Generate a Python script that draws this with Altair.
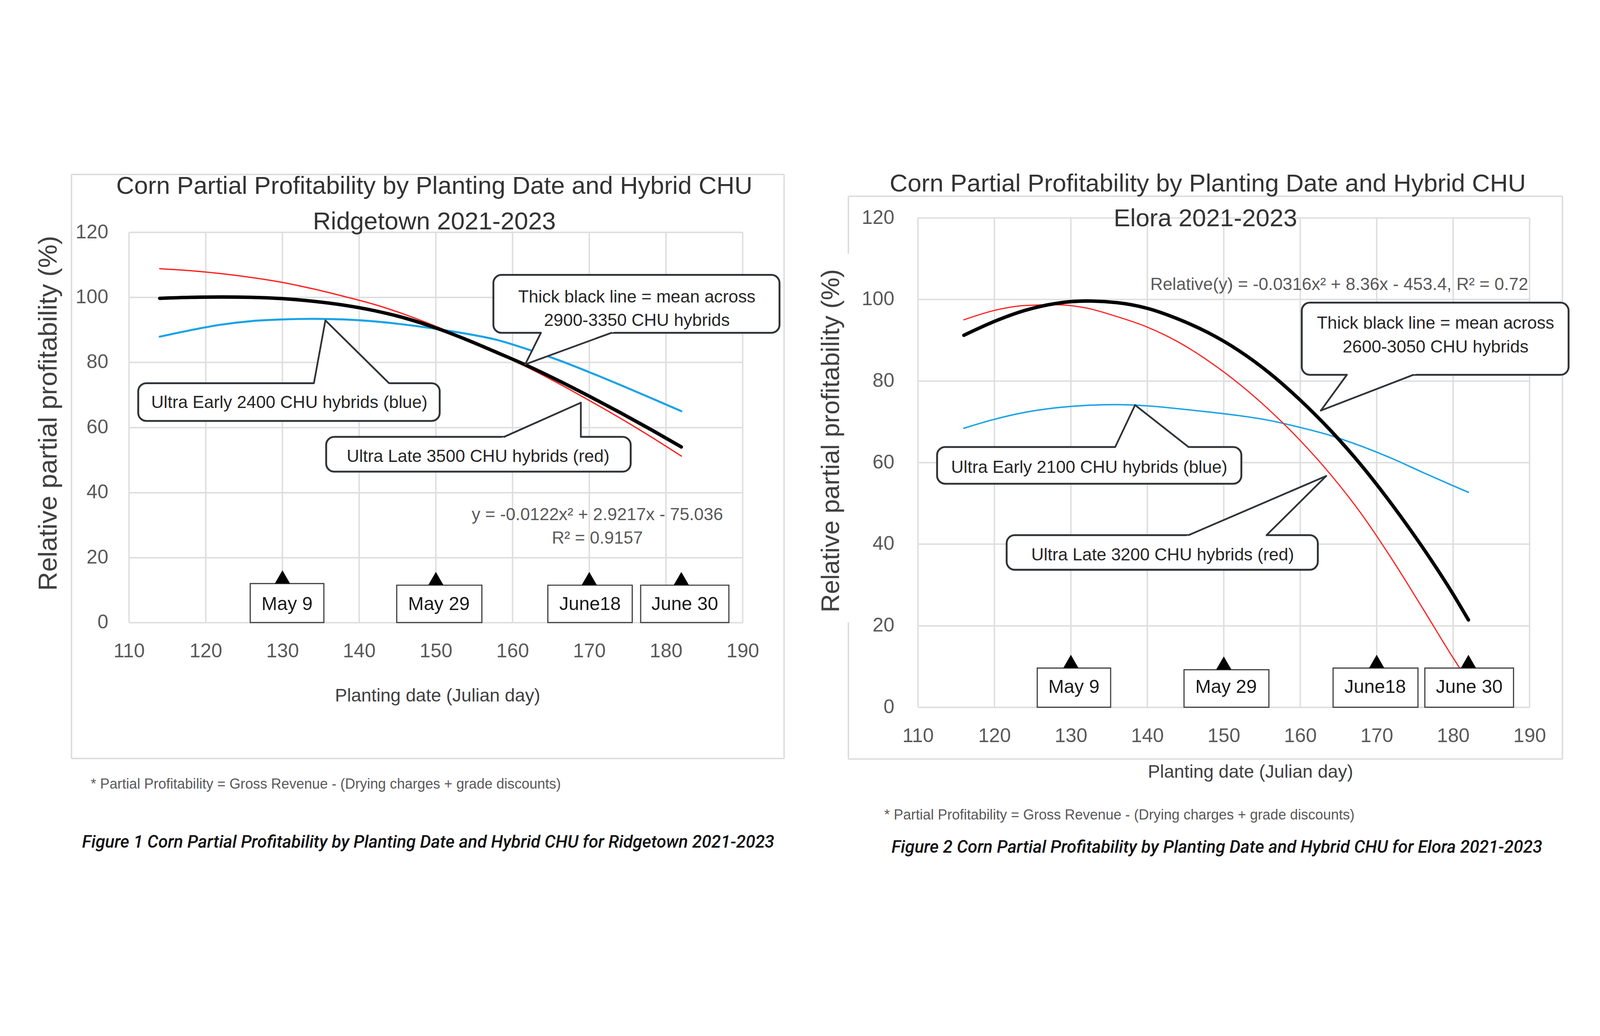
import altair as alt
import pandas as pd

FONT = "Liberation Sans, Arial, Helvetica, sans-serif"
CAPFONT = "Roboto, Liberation Sans, sans-serif"

# ---------------- series ----------------
ridge_day = [114, 118, 122, 126, 130, 134, 138, 142, 146, 150, 154, 158, 162, 166, 170, 174, 178, 182]
ridge_mean = [99.7, 100.0, 100.1, 100.0, 99.6, 98.8, 97.6, 95.9, 93.6, 90.6, 87.0, 83.0, 78.9, 74.4, 69.6, 64.6, 59.4, 54.0]
ridge_late = [108.8, 108.2, 107.3, 106.1, 104.6, 102.6, 100.3, 97.8, 94.7, 91.1, 87.1, 82.8, 78.4, 73.5, 68.3, 62.9, 57.2, 51.2]
ridge_early = [87.9, 89.9, 91.6, 92.7, 93.2, 93.4, 93.2, 92.6, 91.6, 90.3, 88.8, 86.9, 84.0, 80.7, 77.0, 73.1, 69.1, 65.0]

elora_day = [116, 120, 124, 128, 132, 136, 140, 144, 148, 152, 156, 160, 164, 168, 172, 176, 180, 182]
elora_mean = [91.2, 94.6, 97.3, 99.0, 99.6, 99.2, 97.8, 95.2, 91.8, 87.4, 81.9, 75.3, 67.8, 59.3, 49.7, 39.2, 27.7, 21.4]
elora_early = [68.4, 70.6, 72.3, 73.4, 74.0, 74.2, 73.9, 73.2, 72.4, 71.5, 70.3, 68.6, 66.6, 64.0, 61.0, 57.6, 54.3, 52.7]
elora_late_day = [116, 120, 124, 128, 132, 136, 140, 144, 148, 152, 156, 160, 164, 168, 172, 176, 180, 181]
elora_late = [95.0, 97.3, 98.5, 98.7, 97.9, 95.8, 93.2, 89.6, 84.9, 79.3, 72.8, 65.4, 57.0, 47.4, 36.3, 24.3, 12.1, 9.2]

x_ticks = [110, 120, 130, 140, 150, 160, 170, 180, 190]
y_ticks = [0, 20, 40, 60, 80, 100, 120]
date_labels = ["May 9", "May 29", "June18", "June 30"]
date_days = [130, 150, 170, 182]

BLUE = "#1ba3e6"
RED = "#ff1f1f"
BLACK = "#000000"

ridge = dict(
    w=2125, h=1401, ymax=124.45, ky=11.258,
    ylabpad=72, xlabpad=100, ytx=-278, yty=676, ytfs=91, xtx=1068, xty=254,
    extent=(93.62, 198.73, 149.2, -84.5),
    border=[(102.5, 137.8, 195.4, 137.8), (195.4, 137.8, 195.4, -41.8),
            (102.5, -41.8, 195.4, -41.8), (102.5, -41.8, 102.5, 137.8)],
    titles=[(149.8, 134.1, "Corn Partial Profitability by Planting Date and Hybrid CHU"),
            (149.8, 123.2, "Ridgetown 2021-2023")],
    equation=[(171.05, 33.1, "y = -0.0122x² + 2.9217x - 75.036"),
              (171.05, 25.9, "R² = 0.9157")],
    date_boxes=[(125.8, 135.4, 12.0), (144.9, 156.0, 11.5), (164.6, 175.6, 11.5), (176.7, 188.2, 11.5)],
    date_text_x=[130.6, 150.4, 170.1, 182.45], date_text_y=5.6,
    callout_boxes=[(157.5, 194.8, 106.9, 89.1), (111.2, 150.5, 73.6, 62.0), (135.7, 175.4, 57.1, 46.4)],
    wedges=[(89.1, 163.7, 172.9, 161.65, 79.4), (73.6, 134.1, 143.9, 135.6, 92.9),
            (57.1, 158.9, 168.9, 168.9, 67.6)],
    callout_text=[(176.2, 100.0, "Thick black line = mean across"),
                  (176.2, 92.8, "2900-3350 CHU hybrids"),
                  (130.9, 67.6, "Ultra Early 2400 CHU hybrids (blue)"),
                  (155.5, 51.0, "Ultra Late 3500 CHU hybrids (red)")],
    footnote=(105.0, -49.7),
    caption=(149.0, -67.6, "Figure 1 Corn Partial Profitability by Planting Date and Hybrid CHU for Ridgetown 2021-2023"),
    series=[(ridge_day, ridge_early, BLUE, 7), (ridge_day, ridge_late, RED, 4.5), (ridge_day, ridge_mean, BLACK, 12)],
)

elora = dict(
    w=2118, h=1694, ymax=120.0, ky=14.117,
    ylabpad=82, xlabpad=100, ytx=-300, yty=771, ytfs=88, xtx=1151, xty=224,
    extent=(95.84, 198.8, 139.7, -46.6),
    border=[(100.9, 125.3, 194.3, 125.3), (194.3, 125.3, 194.3, -12.7),
            (100.9, -12.7, 194.3, -12.7), (100.9, -12.7, 100.9, 20.8), (100.9, 111.2, 100.9, 125.3)],
    titles=[(147.9, 128.3, "Corn Partial Profitability by Planting Date and Hybrid CHU"),
            (147.6, 119.8, "Elora 2021-2023")],
    equation=[(165.1, 103.6, "Relative(y) = -0.0316x² + 8.36x - 453.4, R² = 0.72")],
    date_boxes=[(125.6, 135.2, 9.6), (144.8, 155.9, 9.2), (164.3, 175.4, 9.6), (176.3, 187.9, 9.6)],
    date_text_x=[130.4, 150.3, 169.8, 182.1], date_text_y=4.9,
    callout_boxes=[(160.2, 195.1, 99.2, 81.5), (112.5, 152.3, 63.8, 54.8), (121.6, 162.3, 42.2, 33.7)],
    wedges=[(81.5, 166.1, 174.8, 162.7, 72.75), (63.8, 135.8, 145.4, 138.4, 74.1),
            (42.2, 145.4, 155.6, 163.4, 56.7)],
    callout_text=[(177.7, 94.1, "Thick black line = mean across"),
                  (177.7, 88.3, "2600-3050 CHU hybrids"),
                  (132.4, 58.7, "Ultra Early 2100 CHU hybrids (blue)"),
                  (142.0, 37.3, "Ultra Late 3200 CHU hybrids (red)")],
    footnote=(105.6, -26.5),
    caption=(149.1, -34.4, "Figure 2 Corn Partial Profitability by Planting Date and Hybrid CHU for Elora 2021-2023"),
    series=[(elora_day, elora_early, BLUE, 5), (elora_late_day, elora_late, RED, 4), (elora_day, elora_mean, BLACK, 12)],
)

FOOTNOTE = "* Partial Profitability = Gross Revenue - (Drying charges + grade discounts)"
GRID = "#dedede"
XTITLE = "Planting date (Julian day)"
YTITLE = "Relative partial profitability (%)"


def build(P):
    xsc = alt.Scale(domain=[110, 190], nice=False, zero=False)
    ysc = alt.Scale(domain=[0, P["ymax"]], nice=False, zero=False)

    # other layers leave the axis unspecified so the explicit one below is used
    def X(f="x"):
        return alt.X(f"{f}:Q", scale=xsc)

    def Y(f="y"):
        return alt.Y(f"{f}:Q", scale=ysc)

    xaxis = alt.Axis(values=x_ticks, format="d", title=XTITLE,
                     grid=False, domain=False, ticks=False, tickSize=0,
                     labelFont=FONT, labelFontSize=68, labelColor="#595959",
                     labelPadding=P["xlabpad"], labelBaseline="middle",
                     labelFlush=False, labelOverlap=False,
                     titleFont=FONT, titleFontSize=63, titleColor="#404040",
                     titleFontWeight="normal", titleX=P["xtx"], titleY=P["xty"],
                     titleAlign="center", titleBaseline="middle")
    yaxis = alt.Axis(values=y_ticks, format="d", title=YTITLE,
                     grid=True, gridColor=GRID, gridWidth=5, domain=False,
                     ticks=False, tickSize=0, labelFont=FONT, labelFontSize=68,
                     labelColor="#595959", labelPadding=P["ylabpad"],
                     labelFlush=False, labelOverlap=False,
                     titleFont=FONT, titleFontSize=P["ytfs"], titleColor="#404040",
                     titleFontWeight="normal", titleAngle=270, titleX=P["ytx"], titleY=P["yty"],
                     titleAlign="center", titleBaseline="middle")

    def text_layer(rows, size, color, align="center", font=FONT, style="normal", weight="normal"):
        df = pd.DataFrame(rows, columns=["x", "y", "t"])
        return (alt.Chart(df).mark_text(align=align, baseline="middle", font=font, fontSize=size,
                                        color=color, fontStyle=style, fontWeight=weight)
                .encode(x=X(), y=Y(), text="t:N"))

    layers = []
    ex = P["extent"]
    # invisible frame fixing the extent of this panel; it carries the axes
    layers.append(alt.Chart(pd.DataFrame([{"x": ex[0], "x2": ex[1], "y": ex[2], "y2": ex[3]}]))
                  .mark_rect(opacity=0)
                  .encode(x=alt.X("x:Q", scale=xsc, axis=xaxis), x2="x2:Q",
                          y=alt.Y("y:Q", scale=ysc, axis=yaxis), y2="y2:Q"))

    # vertical grid lines at the x ticks (between 0 and 120)
    gdf = pd.DataFrame({"x": x_ticks, "y": [0] * len(x_ticks), "y2": [120] * len(x_ticks)})
    layers.append(alt.Chart(gdf).mark_rule(color=GRID, strokeWidth=5)
                  .encode(x=X(), y=Y(), y2="y2:Q"))

    # outer light-grey frame
    bdf = pd.DataFrame(P["border"], columns=["x", "y", "x2", "y2"])
    layers.append(alt.Chart(bdf).mark_rule(color="#dcdcdc", strokeWidth=5)
                  .encode(x=X(), y=Y(), x2="x2:Q", y2="y2:Q"))

    # series lines
    for d, v, col, sw in P["series"]:
        df = pd.DataFrame({"x": d, "y": v})
        layers.append(alt.Chart(df).mark_line(color=col, strokeWidth=sw, interpolate="monotone",
                                              strokeCap="round")
                      .encode(x=X(), y=Y()))

    # trendline equation
    layers.append(text_layer(P["equation"], 60, "#595959"))

    # planting date boxes with triangles
    ddf = pd.DataFrame([{"x": b[0], "x2": b[1], "y": 0, "y2": b[2]} for b in P["date_boxes"]])
    layers.append(alt.Chart(ddf).mark_rect(fill="white", stroke="#404040", strokeWidth=4)
                  .encode(x=X(), x2="x2:Q", y=Y(), y2="y2:Q"))
    tdf = pd.DataFrame({"x": date_days, "y": [b[2] + 23.0 / P["ky"] for b in P["date_boxes"]]})
    layers.append(alt.Chart(tdf).mark_point(shape="triangle-up", filled=True, color="black",
                                            size=2800, opacity=1)
                  .encode(x=X(), y=Y()))
    layers.append(text_layer([(x, P["date_text_y"], t) for x, t in zip(P["date_text_x"], date_labels)],
                             65, "#1a1a1a"))

    # callout boxes
    cdf = pd.DataFrame(P["callout_boxes"], columns=["x", "x2", "y", "y2"])
    layers.append(alt.Chart(cdf).mark_rect(fill="white", stroke="#2f3336", strokeWidth=6.5,
                                           cornerRadius=28)
                  .encode(x=X(), x2="x2:Q", y=Y(), y2="y2:Q"))
    wrows, rrows = [], []
    for k, (by, bx1, bx2, tx, ty) in enumerate(P["wedges"]):
        sgn = 1 if by > ty else -1
        by_in = by + sgn * 6.0 / P["ky"]
        t = (by_in - ty) / (by - ty)
        wrows.append({"id": k, "y": by_in, "x": tx + (bx1 - tx) * t, "x2": tx + (bx2 - tx) * t})
        wrows.append({"id": k, "y": ty, "x": tx, "x2": tx})
        rrows.append({"x": bx1, "y": by, "x2": tx, "y2": ty})
        rrows.append({"x": bx2, "y": by, "x2": tx, "y2": ty})
    layers.append(alt.Chart(pd.DataFrame(wrows)).mark_area(orient="horizontal", fill="white",
                                                           opacity=1)
                  .encode(y=Y(), x=X(), x2="x2:Q", detail="id:N"))
    layers.append(alt.Chart(pd.DataFrame(rrows)).mark_rule(color="#2f3336", strokeWidth=6,
                                                           strokeCap="round")
                  .encode(x=X(), y=Y(), x2="x2:Q", y2="y2:Q"))
    layers.append(text_layer(P["callout_text"], 60, "#262626"))

    # titles, footnote, caption
    layers.append(text_layer(P["titles"], 86, "#333333"))
    fx, fy = P["footnote"]
    layers.append(text_layer([(fx, fy, FOOTNOTE)], 49, "#595959", align="left"))
    layers.append(text_layer([P["caption"]], 60, "#111111", font=CAPFONT, style="italic",
                             weight=500))

    return alt.layer(*layers).properties(width=P["w"], height=P["h"])


chart = (alt.hconcat(build(ridge), build(elora), spacing=0)
         .properties(padding=0, background="white")
         .configure_view(stroke=None))

chart.save("out.html", embed_options={"renderer": "svg", "actions": False})
